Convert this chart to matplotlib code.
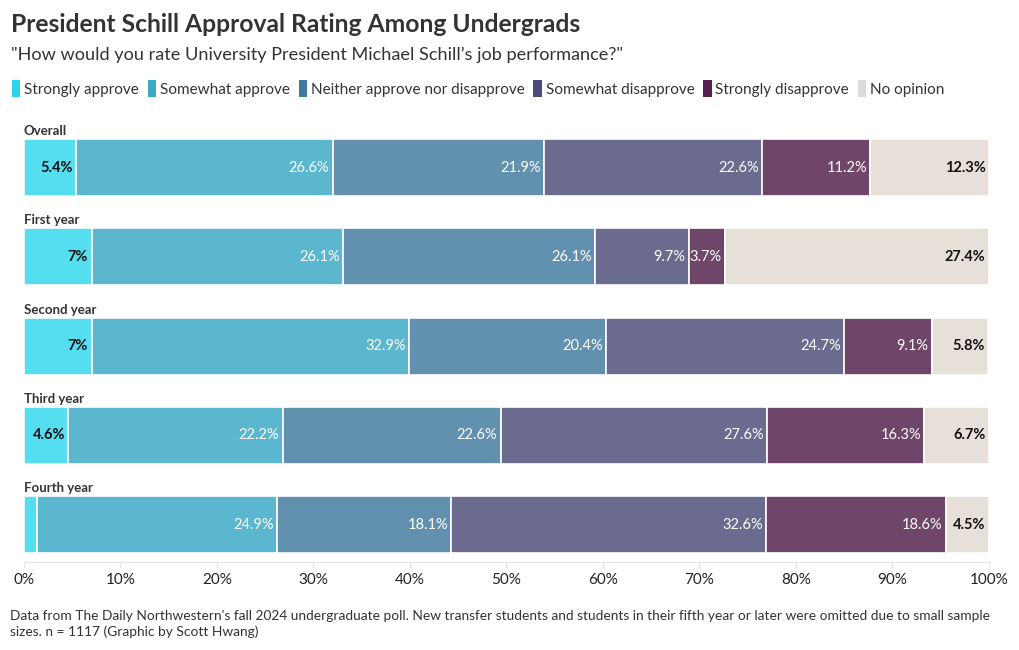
import numpy as np
import matplotlib.pyplot as plt
from matplotlib.patches import Patch

# ------------------------------------------------------------
# data
# ------------------------------------------------------------
groups = ["Overall", "First year", "Second year", "Third year", "Fourth year"]
responses = ["Strongly approve", "Somewhat approve", "Neither approve nor disapprove",
             "Somewhat disapprove", "Strongly disapprove", "No opinion"]

strongly_approve = [5.4, 7.0, 7.0, 4.6, 1.3]
somewhat_approve = [26.6, 26.1, 32.9, 22.2, 24.9]
neither = [21.9, 26.1, 20.4, 22.6, 18.1]
somewhat_disapprove = [22.6, 9.7, 24.7, 27.6, 32.6]
strongly_disapprove = [11.2, 3.7, 9.1, 16.3, 18.6]
no_opinion = [12.3, 27.4, 5.8, 6.7, 4.5]

# label text as printed in the chart (blank = no label)
labels_text = [
    ["5.4%", "7%", "7%", "4.6%", ""],
    ["26.6%", "26.1%", "32.9%", "22.2%", "24.9%"],
    ["21.9%", "26.1%", "20.4%", "22.6%", "18.1%"],
    ["22.6%", "9.7%", "24.7%", "27.6%", "32.6%"],
    ["11.2%", "3.7%", "9.1%", "16.3%", "18.6%"],
    ["12.3%", "27.4%", "5.8%", "6.7%", "4.5%"],
]

series = [strongly_approve, somewhat_approve, neither,
          somewhat_disapprove, strongly_disapprove, no_opinion]

bar_colors = ["#55DDF0", "#5BB7D0", "#6191AF", "#6A6B8F", "#6F4669", "#E7E0D9"]
legend_colors = ["#2FD3EC", "#3DA9C5", "#3F7B9D", "#4B4C79", "#552151", "#DEDAD6"]
label_colors = ["#111111", "white", "white", "white", "white", "#111111"]
label_weights = ["bold", "normal", "normal", "normal", "normal", "bold"]

plt.rcParams['font.family'] = ['Lato', 'DejaVu Sans']

fig = plt.figure(figsize=(10.2, 6.5), dpi=100)
ax = fig.add_axes([0.0235, 0.1354, 0.9461, 0.6677])

y = np.arange(len(groups))
left = np.zeros(len(groups))
for k, vals in enumerate(series):
    vals = np.array(vals)
    ax.barh(y, vals, left=left, height=0.64, color=bar_colors[k],
            edgecolor="white", linewidth=1.2)
    for i in range(len(groups)):
        if labels_text[k][i]:
            ax.text(left[i] + vals[i] - 0.35, y[i], labels_text[k][i],
                    ha="right", va="center", fontsize=10.5,
                    color=label_colors[k], fontweight=label_weights[k])
    left += vals

for i, g in enumerate(groups):
    ax.text(0, y[i] - 0.34, g, ha="left", va="bottom", fontsize=9.5,
            fontweight="bold", color="#333333")

ax.set_xlim(0, 100)
ax.set_ylim(4.42, -0.444)
ax.set_yticks([])
ax.set_xticks(np.arange(0, 101, 10))
ax.set_xticklabels([f"{v}%" for v in range(0, 101, 10)], fontsize=11, color="#222222")
for s in ["top", "right", "left"]:
    ax.spines[s].set_visible(False)
ax.spines["bottom"].set_color("#E4E4E4")
ax.tick_params(axis="x", length=4, color="#E4E4E4", pad=4)

fig.text(0.011, 0.963, "President Schill Approval Rating Among Undergrads",
         fontsize=17.7, fontweight="bold", color="#333333", va="center")
fig.text(0.011, 0.915,
         "\"How would you rate University President Michael Schill\u2019s job performance?\"",
         fontsize=13.1, color="#333333", va="center")

handles = [Patch(facecolor=c, edgecolor="none") for c in legend_colors]
fig.legend(handles, responses, loc="center left", bbox_to_anchor=(-0.002, 0.864),
           ncol=6, frameon=False, fontsize=11, handlelength=0.55, handleheight=1.3,
           handletextpad=0.25, columnspacing=0.58, labelcolor="#333333")

fig.text(0.01, 0.04,
         "Data from The Daily Northwestern's fall 2024 undergraduate poll. New transfer students and students in their fifth year or later were omitted due to small sample\n"
         "sizes. n = 1117 (Graphic by Scott Hwang)",
         fontsize=9.9, color="#333333", va="center", linespacing=1.4)

fig.savefig("out.png", dpi=100)
